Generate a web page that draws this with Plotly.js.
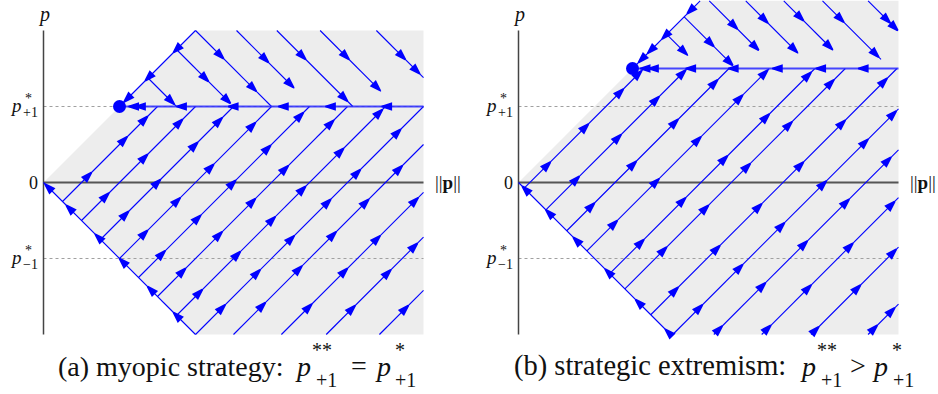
<!DOCTYPE html>
<html><head><meta charset="utf-8">
<script src="https://cdn.plot.ly/plotly-3.0.1.min.js"></script>
<style>body{margin:0;background:#fff}</style>
</head><body><div id="chart" style="width:938px;height:394px"></div>
<script>
// ---------------- data ----------------
const xMax = 5;            // right end of the ||p|| axis
const yMin = -2;           // bottom of the p axis
const axisTop = 2;         // top of drawn p axis
const pStarPlus = 1;       // p*_{+1}
const pStarMinus = -1;     // p*_{-1}

// panel (a): myopic strategy  (p** = p* = 1)
const topA = 2;
const fixedA = 1;
const riseA_c = [0.5, 1.0, 1.5, 2.0, 2.5, 3.0, 3.5, 4.0, 4.5, 5.13, 5.72, 6.42];
const riseA_arrows = [
  [0.63, 1.1, 1.37],
  [0.86, 1.37, 1.83],
  [1.12, 1.54, 2.03, 2.35],
  [1.37, 1.8, 2.24, 2.79],
  [1.6, 2.07, 2.53, 2.99, 3.42],
  [1.87, 2.35, 2.79, 3.22, 3.82],
  [2.09, 2.59, 3.05, 3.45, 3.95, 4.46],
  [2.39, 2.85, 3.3, 3.78, 4.17, 4.7],
  [2.92, 3.4, 3.85, 4.28, 4.72],
  [3.53, 4.0, 4.43, 4.93],
  [4.1, 4.57, 4.92],
  [4.8]
];
const descA_d = [2.75, 3.5, 4.0, 4.54, 5.07, 5.64, 6.38];
const descA_endY = [1.0, 1.1, 1.0, 1.24, 1.0, 1.2, 1.38];
const descA_arrows = [[1.72], [2.17, 2.46], [2.37, 2.8], [2.96, 3.29], [3.45, 4.0], [4.02, 4.43], [4.76, 4.95]];
const upperA_arrows = [1.71, 1.34, 1.06];
const lowerA_arrows = [0.02, 0.3, 0.68, 1.0, 1.37, 1.71];
const flowA_arrows = [1.12, 1.21, 1.75, 2.43, 3.09, 3.71, 4.45];

// panel (b): strategic extremism  (p** = 1.5 > p* = 1)
const topB = 2.39;
const fixedB = 1.5;
const riseB_c = [0.15, 0.72, 1.27, 1.8, 2.4, 2.8, 3.48, 4.03, 4.57, 5.2, 5.85, 6.6];
const riseB_arrows = [
  [0.42, 0.92, 1.38, 1.62],
  [0.8, 1.35, 1.85, 2.2],
  [1.0, 1.55, 2.1, 2.62],
  [1.3, 1.85, 2.4, 2.95, 3.28],
  [1.65, 2.2, 2.75, 3.3, 3.85],
  [1.95, 2.5, 3.05, 3.6, 4.15],
  [2.1, 2.65, 3.2, 3.75, 4.3, 4.85],
  [2.42, 2.95, 3.5, 4.05, 4.6, 4.97],
  [2.68, 3.25, 3.8, 4.35, 4.9],
  [3.32, 3.85, 4.4, 4.95],
  [3.95, 4.5, 4.97],
  [4.72, 4.95]
];
const descB_d = [3.9, 4.36, 4.9, 5.38, 5.88, 6.39, 6.99];
const descB_endY = [1.67, 1.56, 1.74, 1.7, 1.74, 1.62, 2.0];
const descB_arrows = [[2.22], [2.57, 2.82], [2.88, 3.16], [3.28, 3.67], [3.75, 4.13], [4.28, 4.74], [4.89, 4.99]];
const upperB_arrows = [2.22, 1.89, 1.7, 1.58];
const lowerB_arrows = [0.05, 0.36, 0.72, 1.14, 1.54, 1.93];
const flowB_arrows = [1.6, 1.71, 2.2, 2.76, 3.34, 3.91, 4.47];

// ---------------- drawing ----------------
const BLUE = '#0000ff';
const PX = 76;           // pixels per data unit (both axes)
const W = 938, H = 394, Y0 = 182.5;

function lineTrace(xa, xs, ys, color, width, dash) {
  return {x: xs, y: ys, xaxis: xa, yaxis: 'y', mode: 'lines',
    line: {color: color, width: width, dash: dash || 'solid'}, hoverinfo: 'skip'};
}

function panel(xa, top, fixed, riseC, riseArr, descD, descEndY, descArr, upArr, lowArr, flowArr) {
  const traces = [];
  // shaded admissible region |p| <= ||p||
  traces.push({x: [0, top, xMax, xMax, -yMin, 0], y: [0, top, top, yMin, yMin, 0],
    xaxis: xa, yaxis: 'y', mode: 'none', fill: 'toself', fillcolor: '#ededed', hoverinfo: 'skip'});
  // dotted reference levels
  traces.push(lineTrace(xa, [0, xMax, null, 0, xMax], [pStarPlus, pStarPlus, null, pStarMinus, pStarMinus], '#a0a0a0', 1, 'dot'));
  // axes
  traces.push(lineTrace(xa, [0, xMax], [0, 0], '#555555', 2));
  traces.push(lineTrace(xa, [0, 0], [yMin, axisTop], '#444444', 1.5));

  const ax = [], ay = [], ang = [];
  // rising streamlines y = x - c
  const rx = [], ry = [];
  riseC.forEach((c, i) => {
    const sx = c / 2 <= -yMin ? c / 2 : c + yMin;
    const ex = Math.min(fixed + c, xMax);
    rx.push(sx, ex, null); ry.push(sx - c, ex - c, null);
    riseArr[i].forEach(x => { ax.push(x); ay.push(x - c); ang.push(45); });
  });
  traces.push(lineTrace(xa, rx, ry, BLUE, 1.1));
  // descending streamlines y = d - x
  const dx = [], dy = [];
  descD.forEach((d, i) => {
    const sx = d / 2 <= top ? d / 2 : d - top;
    const ex = Math.min(d - descEndY[i], xMax);
    dx.push(sx, ex, null); dy.push(d - sx, d - ex, null);
    descArr[i].forEach(x => { ax.push(x); ay.push(d - x); ang.push(135); });
  });
  traces.push(lineTrace(xa, dx, dy, BLUE, 1.1));
  // upper boundary y = x and lower boundary y = -x
  traces.push(lineTrace(xa, [top, fixed, null, -yMin, 0], [top, fixed, null, yMin, 0], BLUE, 1.1));
  upArr.forEach(x => { ax.push(x); ay.push(x); ang.push(-135); });
  lowArr.forEach(x => { ax.push(x); ay.push(-x); ang.push(-45); });
  // flow along p = p**
  traces.push(lineTrace(xa, [fixed, xMax], [fixed, fixed], 'rgba(40,40,255,0.85)', 2));
  flowArr.forEach(x => { ax.push(x); ay.push(fixed); ang.push(-90); });
  traces.push({x: ax, y: ay, xaxis: xa, yaxis: 'y', mode: 'markers',
    marker: {symbol: 'arrow', size: 10, color: BLUE, angle: ang, line: {width: 1.8, color: BLUE}}, hoverinfo: 'skip'});
  // fixed point
  traces.push({x: [fixed], y: [fixed], xaxis: xa, yaxis: 'y', mode: 'markers',
    marker: {symbol: 'circle', size: 13, color: BLUE, line: {width: 0}}, hoverinfo: 'skip'});
  return traces;
}

const data = [].concat(
  panel('x', topA, fixedA, riseA_c, riseA_arrows, descA_d, descA_endY, descA_arrows, upperA_arrows, lowerA_arrows, flowA_arrows),
  panel('x2', topB, fixedB, riseB_c, riseB_arrows, descB_d, descB_endY, descB_arrows, upperB_arrows, lowerB_arrows, flowB_arrows)
);

const SERIF = 'Liberation Serif, DejaVu Serif, serif';
const ann = [];
function txt(xa, x, y, text, size, opts) {
  ann.push(Object.assign({xref: xa, yref: 'y', x: x, y: y, text: text, showarrow: false,
    font: {family: SERIF, size: size, color: '#111'}}, opts || {}));
}
function ptxt(px, py, text, size, anchor) {
  ann.push({xref: 'paper', yref: 'paper', x: px / W, y: 1 - py / H, text: text, showarrow: false,
    xanchor: anchor || 'left', yanchor: 'middle', font: {family: SERIF, size: size, color: '#111'}});
}
['x', 'x2'].forEach(xa => {
  // tick labels
  txt(xa, 0, 0, '0', 18, {xanchor: 'right', xshift: -4});
  txt(xa, 0, pStarPlus, '<i>p</i>', 19, {xanchor: 'right', xshift: -20, yshift: 1});
  txt(xa, 0, pStarPlus, '*', 14, {xanchor: 'left', xshift: -21, yshift: 8});
  txt(xa, 0, pStarPlus, '+1', 14, {xanchor: 'left', xshift: -23, yshift: -6});
  txt(xa, 0, pStarMinus, '<i>p</i>', 19, {xanchor: 'right', xshift: -20, yshift: 1});
  txt(xa, 0, pStarMinus, '*', 14, {xanchor: 'left', xshift: -21, yshift: 8});
  txt(xa, 0, pStarMinus, '\u22121', 14, {xanchor: 'left', xshift: -23, yshift: -6});
  // axis titles
  txt(xa, 0, axisTop, '<i>p</i>', 20, {yanchor: 'bottom', yshift: 3});
  txt(xa, xMax, 0, '||<b>p</b>||', 19, {xanchor: 'left', xshift: 9});
});

// captions
ptxt(56, 366, '(a) myopic strategy:', 28);
ptxt(293, 366, '<i>p</i>', 28);
ptxt(322, 350, '**', 20, 'center');
ptxt(326, 380, '+1', 20, 'center');
ptxt(359, 365, '=', 28, 'center');
ptxt(373, 366, '<i>p</i>', 28);
ptxt(400, 350, '*', 20, 'center');
ptxt(405, 380, '+1', 20, 'center');

ptxt(512, 366, '(b) strategic extremism:', 28.5);
ptxt(798, 366, '<i>p</i>', 28);
ptxt(827, 350, '**', 20, 'center');
ptxt(831, 380, '+1', 20, 'center');
ptxt(858, 365, '&gt;', 28, 'center');
ptxt(870, 366, '<i>p</i>', 28);
ptxt(897, 350, '*', 20, 'center');
ptxt(903, 380, '+1', 20, 'center');

const layout = {
  width: W, height: H, autosize: false,
  margin: {l: 0, r: 0, t: 0, b: 0, pad: 0},
  paper_bgcolor: '#fff', plot_bgcolor: 'rgba(0,0,0,0)',
  showlegend: false,
  xaxis: {domain: [0, 0.5], range: [-43.5 / PX, (469 - 43.5) / PX], visible: false, fixedrange: true},
  xaxis2: {domain: [0.5, 1], range: [-(518.5 - 469) / PX, (938 - 518.5) / PX], visible: false, fixedrange: true},
  yaxis: {domain: [0, 1], range: [-(H - Y0) / PX, Y0 / PX], visible: false, fixedrange: true},
  annotations: ann
};
Plotly.newPlot('chart', data, layout, {staticPlot: true, displayModeBar: false});
</script></body></html>
